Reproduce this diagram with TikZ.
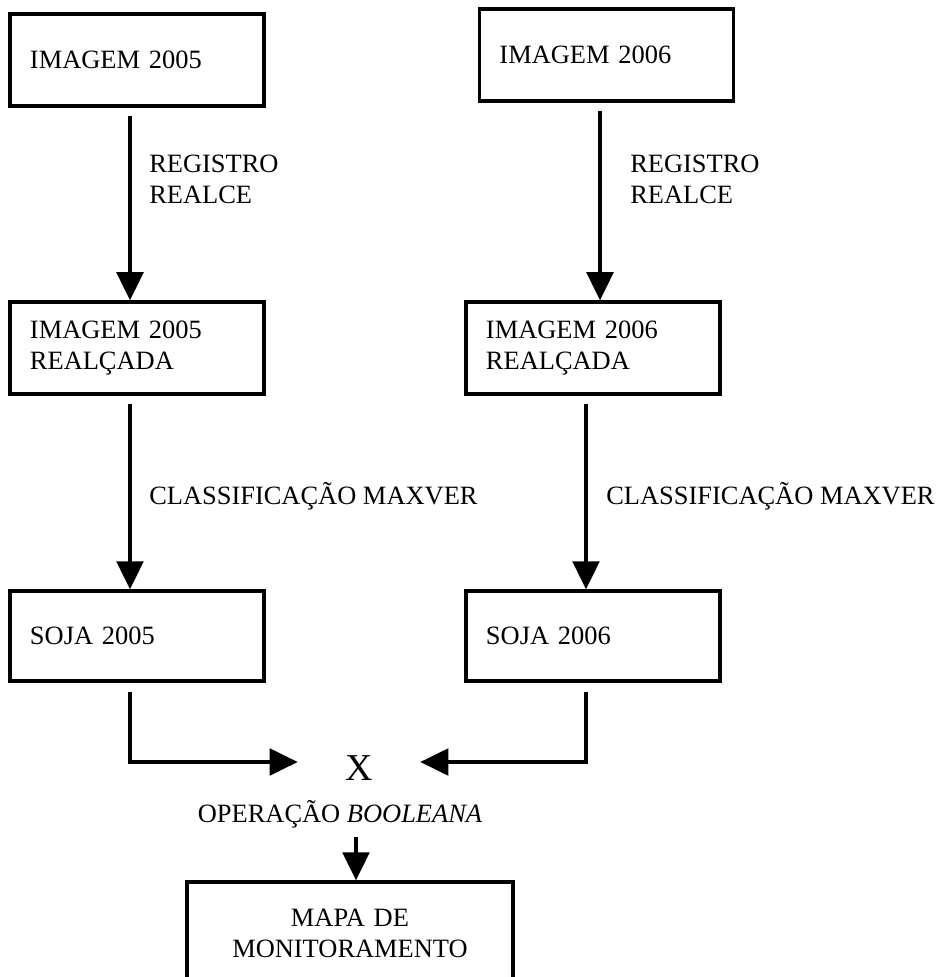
\documentclass[tikz,border=0pt]{standalone}
\usepackage{fontspec}
\setmainfont{Liberation Serif}
\usetikzlibrary{arrows.meta,positioning}

\begin{document}
\begin{tikzpicture}[x=0.025cm,y=-0.025cm,
      font=\fontsize{18.8}{22}\selectfont,
      bx/.style={draw,line width=2.3pt,minimum width=6.35cm,minimum height=2.3cm,
                 inner xsep=0.5cm,text width=5.35cm,align=left},
      lb/.style={anchor=west,align=left,inner sep=0pt},
      ar/.style={-{Triangle[length=20pt,width=19pt]},line width=2.4pt}]

    \useasboundingbox (0,0) rectangle (940,977);

    % columns of the connectors
    \coordinate (cL) at (130,0);
    \coordinate (cR) at (600,0);
    \coordinate (cS) at (586,0);
    \coordinate (cM) at (356,0);

    \node[bx] (img05) at (137,60) {IMAGEM 2005};
    \node[bx] (img06) at (606.5,55) {IMAGEM 2006};
    \node[bx] (rea05) at (137,348) {IMAGEM 2005\\REALÇADA};
    \node[bx] (rea06) at (593,348) {IMAGEM 2006\\REALÇADA};
    \node[bx,minimum height=2.25cm] (soj05) at (137,636) {SOJA 2005};
    \node[bx,minimum height=2.25cm] (soj06) at (593,636) {SOJA 2006};

    \node[lb] (reg05) at (149,179) {REGISTRO\\REALCE};
    \node[lb] (reg06) at (630,179) {REGISTRO\\REALCE};
    \node[lb] (cla05) at (149,496) {CLASSIFICAÇÃO MAXVER};
    \node[lb] (cla06) at (606,496) {CLASSIFICAÇÃO MAXVER};

    \node[inner sep=0pt,minimum width=3.05cm,font=\fontsize{27}{30}\selectfont] (xop) at (359,768) {X};
    \node[inner sep=0pt] (bool) at (340,814) {OPERAÇÃO \textit{BOOLEANA}};
    \node[bx,minimum width=8.15cm,minimum height=2.575cm,text width=7.15cm,align=center] (mapa) at (350,933.5) {MAPA DE\\MONITORAMENTO};

    \coordinate (jL) at (130,762);
    \coordinate (jR) at (586,762);

    \draw[ar,shorten <=6pt] (img05.south -| cL) -- (rea05.north -| cL);
    \draw[ar,shorten <=6pt] (img06.south -| cR) -- (rea06.north -| cR);
    \draw[ar,shorten <=6pt] (rea05.south -| cL) -- (soj05.north -| cL);
    \draw[ar,shorten <=6pt] (rea06.south -| cS) -- (soj06.north -| cS);
    \draw[ar,shorten <=7pt] (soj05.south -| cL) -- (jL) -- (jL -| xop.west);
    \draw[ar,shorten <=7pt] (soj06.south -| cS) -- (jR) -- (jR -| xop.east);
    \draw[ar,shorten <=6pt] (bool.south -| cM) -- (mapa.north -| cM);
  \end{tikzpicture}
\end{document}
